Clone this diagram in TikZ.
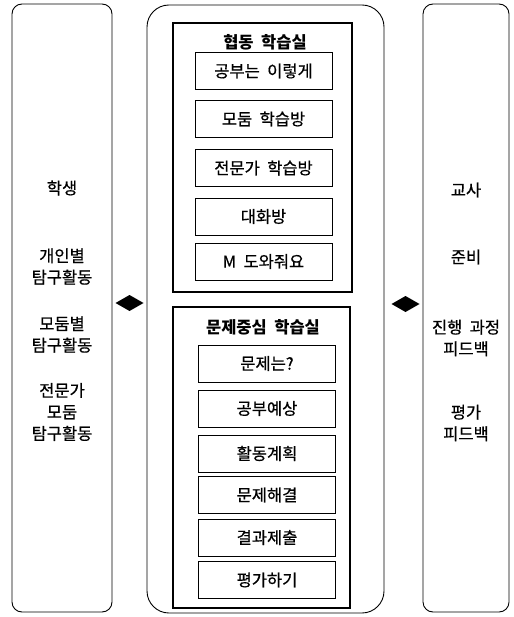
\documentclass[tikz,border=0pt]{standalone}
\usepackage{fontspec}
\setmainfont{Noto Sans CJK KR}[WordSpace=2]
\newfontfamily\bodyfont{Noto Sans CJK KR}[WordSpace=2, FakeBold=0.6]
\begin{document}
\begin{tikzpicture}[x=1pt,y=-1pt,
  panel/.style={draw, line width=0.9pt, rounded corners=10pt, inner sep=0pt},
  midpanel/.style={draw, line width=0.9pt, rounded corners=22pt, inner sep=0pt},
  room/.style={draw, line width=1.1pt, inner sep=0pt},
  sub/.style={draw, line width=0.8pt, inner sep=0pt, minimum width=137pt, minimum height=37pt, font=\bodyfont\fontsize{16.5}{18}\selectfont},
  lbl/.style={align=center, inner sep=0pt, font=\bodyfont\fontsize{16.5}{21.5}\selectfont},
  ttl/.style={inner sep=0pt, font=\fontsize{16.5}{18}\selectfont\bfseries},
  dia/.style={fill=black}
]
\useasboundingbox (0,0) rectangle (513,617);
% panels
\node[panel, minimum width=100pt, minimum height=608pt] (left) at (62,308) {};
\node[midpanel, minimum width=237pt, minimum height=608pt] (mid) at (265.5,309) {};
\node[panel, minimum width=86pt, minimum height=608pt] (right) at (466,308) {};
% left texts
\node[lbl] (s1) at (62,188) {학생};
\node[lbl] (s2) at (62,266.5) {개인별\\탐구활동};
\node[lbl] (s3) at (62,334.5) {모둠별\\탐구활동};
\node[lbl] (s4) at (62,412) {전문가\\모둠\\탐구활동};
% right texts
\node[lbl] (t1) at (466,190) {교사};
\node[lbl] (t2) at (466,257) {준비};
\node[lbl] (t3) at (466,338) {진행 과정\\피드백};
\node[lbl] (t4) at (466,423) {평가\\피드백};
% top room
\node[room, minimum width=179pt, minimum height=269pt] (roomA) at (262.5,157.5) {};
\node[ttl] (ta) at (265,42) {협동 학습실};
\node[sub] (a1) at (263.5,71) {공부는 이렇게};
\node[sub] (a2) at (263.5,119) {모둠 학습방};
\node[sub] (a3) at (263.5,168) {전문가 학습방};
\node[sub] (a4) at (263.5,216.5) {대화방};
\node[sub] (a5) at (263.5,261.5) {M 도와줘요};
% bottom room
\node[room, minimum width=177pt, minimum height=301pt] (roomB) at (261.5,457.5) {};
\node[ttl] (tb) at (263,327) {문제중심 학습실};
\node[sub] (b1) at (267,363.5) {문제는?};
\node[sub] (b2) at (267,408.5) {공부예상};
\node[sub] (b3) at (267,453.5) {활동계획};
\node[sub] (b4) at (267,495) {문제해결};
\node[sub] (b5) at (267,537.5) {결과제출};
\node[sub] (b6) at (267,580) {평가하기};
% diamonds
\coordinate (dl) at (129.5,303);
\coordinate (dr) at (405.5,304);
\fill[dia] (dl) ++(-14,0) -- ++(14,-8) -- ++(14,8) -- ++(-14,8) -- cycle;
\fill[dia] (dr) ++(-14,0) -- ++(14,-8) -- ++(14,8) -- ++(-14,8) -- cycle;
\end{tikzpicture}
\end{document}
